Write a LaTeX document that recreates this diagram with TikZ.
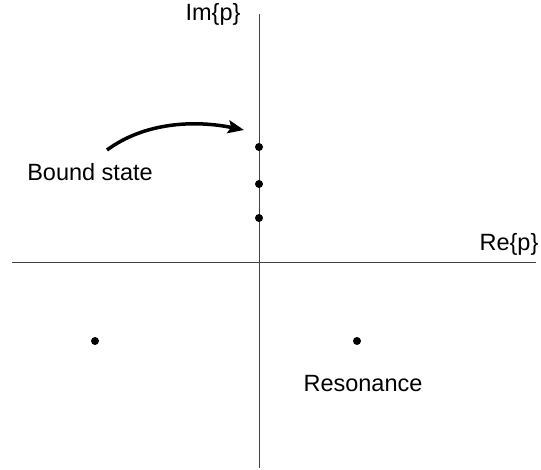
\documentclass[tikz,border=0pt]{standalone}
\usepackage{fontspec}
\setmainfont{Liberation Sans}
\usetikzlibrary{arrows.meta}

\begin{document}
\begin{tikzpicture}[x=1pt, y=-1pt,
    axis/.style={line width=0.9pt, black!75},
    pole/.style={circle, fill=black, inner sep=0pt, minimum size=8pt},
    lbl/.style={font=\fontsize{23.5}{28}\selectfont, inner sep=0pt}]
    \useasboundingbox (0,0) rectangle (541,470);

    % Define the ends of the axes
    \coordinate (O) at (259,262);
    \coordinate (ImTop) at (259,14);
    \coordinate (ImBot) at (259,468);
    \coordinate (ReLeft) at (12,262);
    \coordinate (ReRight) at (536,262);

    % Draw the axes
    \draw[axis] (ReLeft) -- (ReRight);
    \draw[axis] (ImBot) -- (ImTop);

    % Axis labels
    \node[lbl] (imlabel) at (213,14) {Im\{p\}};
    \node[lbl] (relabel) at (509,244) {Re\{p\}};

    % Bound states on the imaginary axis
    \node[pole] (b1) at (259,147) {};
    \node[pole] (b2) at (259,184) {};
    \node[pole] (b3) at (259,218) {};

    % Resonances in the lower half plane
    \node[pole] (r1) at (95,341) {};
    \node[pole] (r2) at (357,341) {};

    % Labels
    \node[lbl] (bound) at (90,172) {Bound state};
    \node[lbl] (reson) at (363,384) {Resonance};

    % Arrow to the bound states
    \coordinate (tail) at (107,150);
    \coordinate (tip) at (244,130);
    \draw[line width=3.5pt, -{Stealth[length=16pt, width=13pt, inset=3pt]}]
        (tail) .. controls (145,122) and (195,120) .. (tip);
\end{tikzpicture}
\end{document}
